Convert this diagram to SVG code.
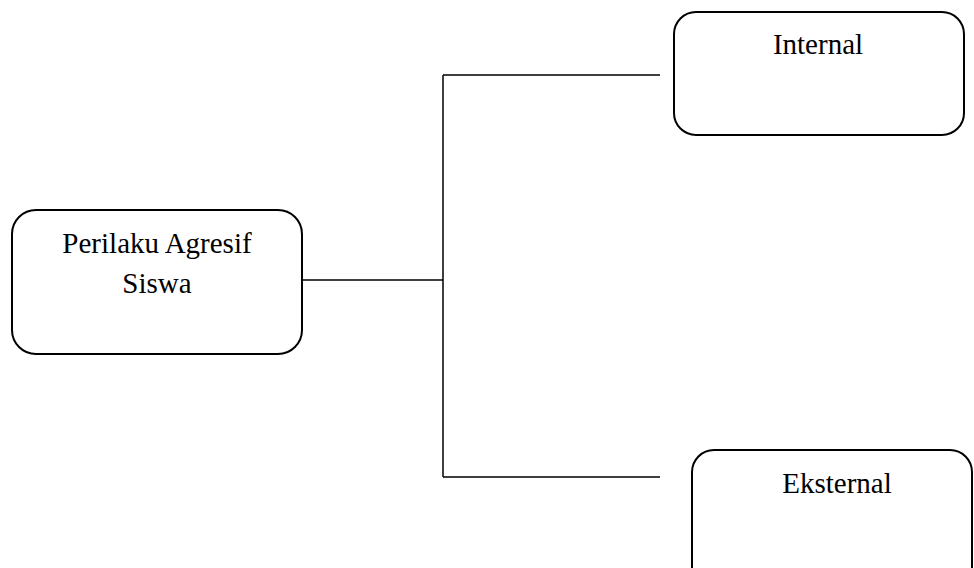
<svg xmlns="http://www.w3.org/2000/svg" width="974" height="568" viewBox="0 0 974 568">
<style>
.box{fill:#fff;stroke:#000;stroke-width:2}
.lbl{font-family:"Liberation Serif","Times New Roman",serif;font-size:29px;fill:#000;text-anchor:middle}
.ln{stroke:#000;stroke-width:1.5;fill:none}
</style>
<rect width="974" height="568" fill="#fff"/>
<g id="connectors">
<path class="ln" d="M302 280H443M443 75V477M443 75H660M443 477H660"/>
</g>
<g id="node-perilaku">
<rect class="box" x="12" y="210" width="290" height="144" rx="24"/>
<text class="lbl" x="157" y="253">Perilaku Agresif</text>
<text class="lbl" x="157" y="293">Siswa</text>
</g>
<g id="node-internal">
<rect class="box" x="674" y="12" width="290" height="123" rx="22"/>
<text class="lbl" x="818" y="54">Internal</text>
</g>
<g id="node-eksternal">
<rect class="box" x="692" y="450" width="280" height="140" rx="22"/>
<text class="lbl" x="837" y="493">Eksternal</text>
</g>
</svg>
